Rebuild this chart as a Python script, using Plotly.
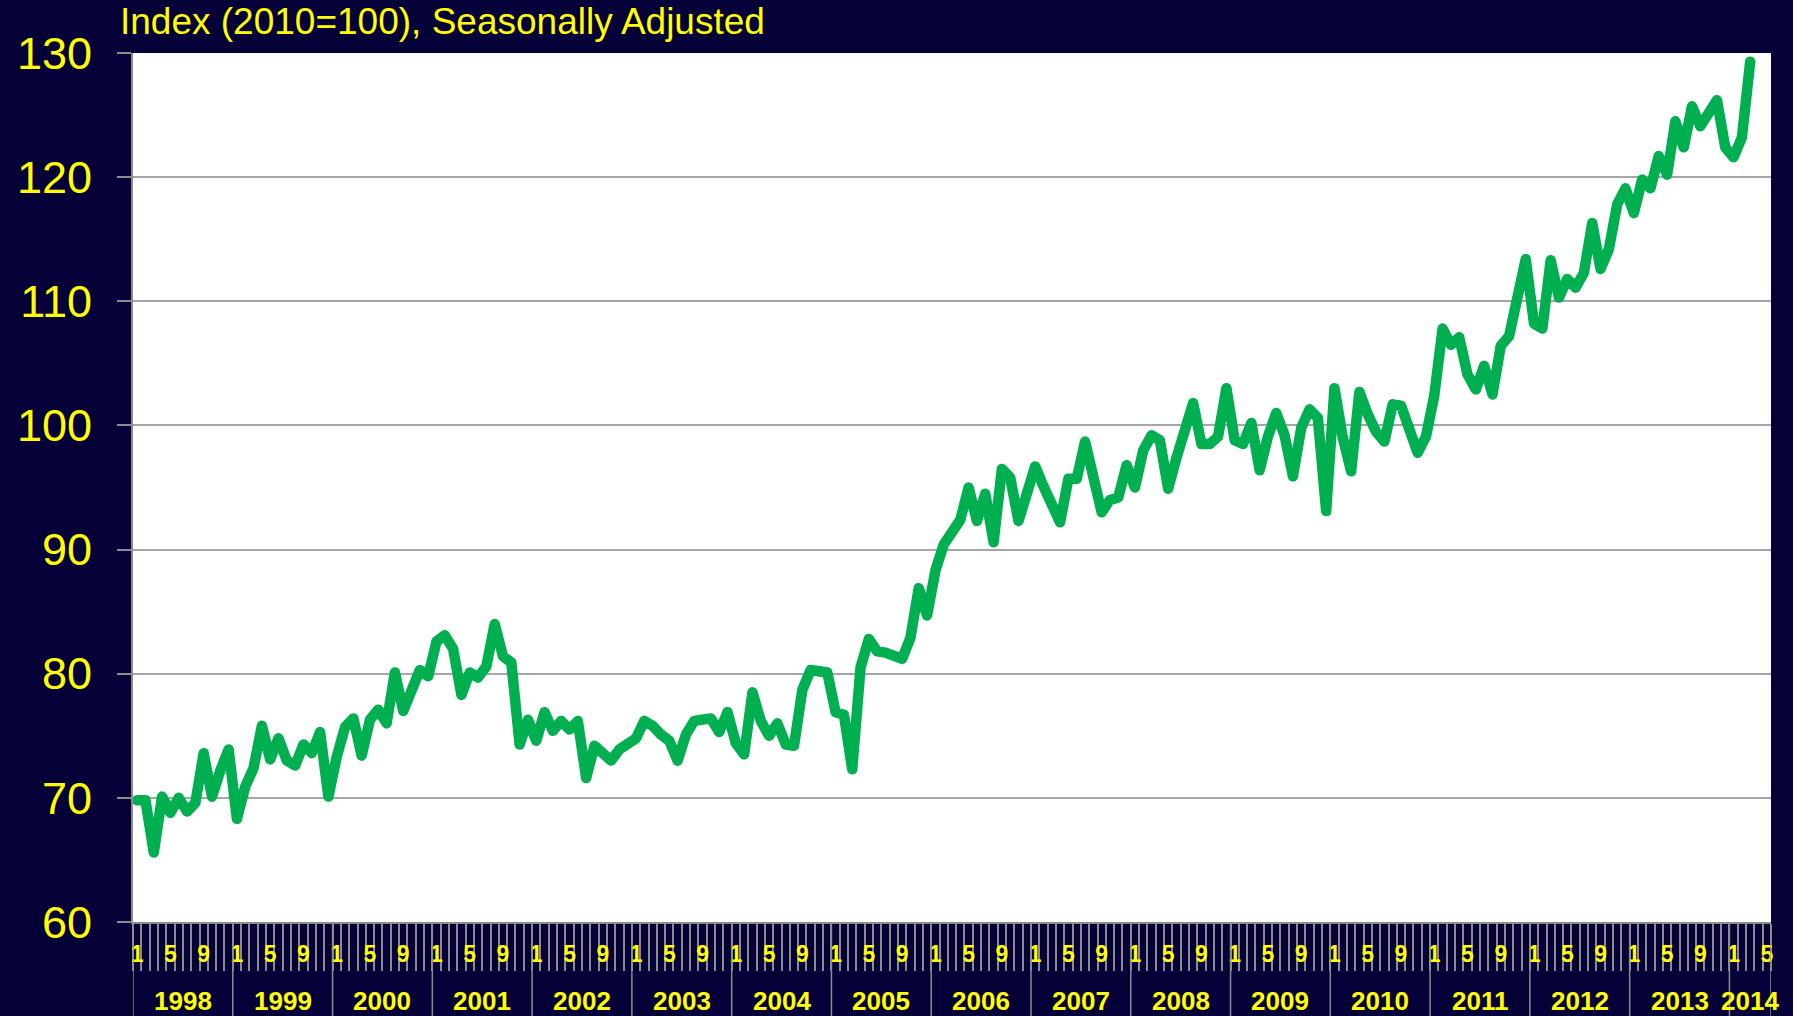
import plotly.graph_objects as go

# ---- data ----
years = [1998, 1999, 2000, 2001, 2002, 2003, 2004, 2005, 2006, 2007,
         2008, 2009, 2010, 2011, 2012, 2013, 2014]
label_months = [1, 5, 9]

v1998 = [69.8, 69.8, 65.6, 70.1, 68.8, 70.0, 68.9, 69.6, 73.6, 70.1, 72.2, 73.9]
v1999 = [68.3, 70.9, 72.4, 75.8, 73.1, 74.8, 73.0, 72.6, 74.3, 73.6, 75.3, 70.1]
v2000 = [73.3, 75.7, 76.4, 73.4, 76.3, 77.1, 76.0, 80.1, 77.0, 78.5, 80.3, 79.8]
v2001 = [82.6, 83.1, 82.0, 78.3, 80.1, 79.7, 80.6, 84.0, 81.4, 80.9, 74.3, 76.3]
v2002 = [74.6, 76.9, 75.4, 76.2, 75.5, 76.2, 71.6, 74.2, 73.7, 73.0, 73.9, 74.4]
v2003 = [74.8, 76.2, 75.8, 75.1, 74.6, 73.0, 75.1, 76.2, 76.2, 76.4, 75.3, 76.9]
v2004 = [74.4, 73.5, 78.5, 76.2, 75.0, 76.0, 74.3, 74.2, 78.7, 80.3, 80.2, 80.1]
v2005 = [76.9, 76.7, 72.3, 80.5, 82.8, 81.8, 81.7, 81.4, 81.2, 82.9, 86.9, 84.7]
v2006 = [88.3, 90.4, 91.6, 92.4, 95.0, 92.3, 94.5, 90.6, 96.5, 95.8, 92.3, 94.5]
v2007 = [96.7, 95.1, 93.6, 92.2, 95.7, 95.7, 98.7, 95.8, 93.0, 94.0, 94.2, 96.8]
v2008 = [95.0, 98.0, 99.2, 98.8, 94.9, 97.4, 99.6, 101.8, 98.5, 98.5, 99.1, 103.0]
v2009 = [98.8, 98.5, 100.2, 96.4, 99.1, 101.0, 99.2, 95.9, 99.8, 101.3, 100.6, 93.1]
v2010 = [103.0, 99.0, 96.3, 102.7, 100.9, 99.5, 98.7, 101.7, 101.6, 99.8, 97.8, 99.1]
v2011 = [102.4, 107.8, 106.5, 107.1, 104.1, 102.9, 104.8, 102.5, 106.4, 107.2, 109.9, 113.4]
v2012 = [108.2, 107.8, 113.3, 110.3, 111.8, 111.1, 112.3, 116.3, 112.6, 114.2, 117.8, 119.1]
v2013 = [117.1, 119.8, 119.1, 121.7, 120.2, 124.5, 122.4, 125.7, 124.1, 125.2, 126.2, 122.4]
v2014 = [121.6, 123.2, 129.3, None, None]   # axis runs to May 2014

yearly = [v1998, v1999, v2000, v2001, v2002, v2003, v2004, v2005, v2006,
          v2007, v2008, v2009, v2010, v2011, v2012, v2013, v2014]

y_ticks = [60, 70, 80, 90, 100, 110, 120, 130]
title_text = "Index (2010=100), Seasonally Adjusted"

# ---- build category positions ----
values, cat_year, cat_month = [], [], []
for yr, vals in zip(years, yearly):
    for m, v in enumerate(vals, start=1):
        values.append(v)
        cat_year.append(yr)
        cat_month.append(m)
xpos = list(range(len(values)))
n_cat = len(values)

tickvals = [i for i, m in zip(xpos, cat_month) if m in label_months]
ticktext = [str(cat_month[i]) for i in tickvals]

NAVY = "#050037"
YELLOW = "#FFFF00"
GREEN = "#00B050"
GRID = "#A6A6A6"
AXIS = "#8C8C8C"
FONT = "Liberation Sans, Arial, sans-serif"

fig = go.Figure()
fig.add_trace(go.Scatter(x=xpos, y=values, mode="lines",
                         line=dict(color=GREEN, width=10.5),
                         connectgaps=False, hoverinfo="x+y", showlegend=False))

W, H = 1793, 1016
ml, mr, mt, mb = 133, 22, 53, 94
ph = H - mt - mb

shapes = []
annotations = []
for yr in years:
    idx = [i for i in xpos if cat_year[i] == yr]
    shapes.append(dict(type="line", xref="x", yref="paper",
                       x0=idx[0] - 0.5, x1=idx[0] - 0.5, y0=0, y1=-mb / ph,
                       line=dict(color=AXIS, width=1.5)))
    annotations.append(dict(x=(idx[0] + idx[-1]) / 2, xref="x",
                            y=-79 / ph, yref="paper", yanchor="middle",
                            text="<b>%d</b>" % yr, showarrow=False,
                            font=dict(family=FONT, size=26, color=YELLOW)))
shapes.append(dict(type="line", xref="x", yref="paper",
                   x0=n_cat - 0.5, x1=n_cat - 0.5, y0=0, y1=-mb / ph,
                   line=dict(color=AXIS, width=1.5)))

annotations.append(dict(x=(118 - ml) / (W - ml - mr), xref="paper", xanchor="left",
                        y=1 + (mt - 22) / ph, yref="paper", yanchor="middle",
                        text=title_text, showarrow=False,
                        font=dict(family=FONT, size=37, color=YELLOW)))

fig.update_layout(
    width=W, height=H,
    margin=dict(l=ml, r=mr, t=mt, b=mb),
    paper_bgcolor=NAVY, plot_bgcolor="white",
    shapes=shapes, annotations=annotations,
    xaxis=dict(range=[-0.5, n_cat - 0.5], tickmode="array",
               tickvals=tickvals, ticktext=["<b>%s</b>" % t for t in ticktext],
               ticks="outside", ticklen=10, tickcolor="rgba(0,0,0,0)",
               tickfont=dict(family=FONT, size=23, color=YELLOW),
               showgrid=False, zeroline=False,
               showline=True, linecolor=AXIS, linewidth=2,
               minor=dict(ticks="outside", ticklen=47, tickcolor=AXIS, tickwidth=1.5,
                          tickmode="array",
                          tickvals=[i - 0.5 for i in xpos] + [n_cat - 0.5])),
    yaxis=dict(range=[60, 130], tickmode="array", tickvals=y_ticks,
               ticks="outside", ticklen=14, tickcolor=AXIS, tickwidth=2,
               tickfont=dict(family=FONT, size=45, color=YELLOW),
               showgrid=True, gridcolor=GRID, gridwidth=1.5,
               zeroline=False, showline=True, linecolor=AXIS, linewidth=2,
               ticklabelstandoff=16),
)

post = """
document.body.style.margin = '0px';
document.body.style.background = '%s';
document.querySelectorAll('.scatterlayer path.js-line').forEach(function(p){
  p.style.strokeLinejoin = 'round'; p.style.strokeLinecap = 'round';
});
""" % NAVY

fig.write_html("out.html", post_script=post, config={"displayModeBar": False})
